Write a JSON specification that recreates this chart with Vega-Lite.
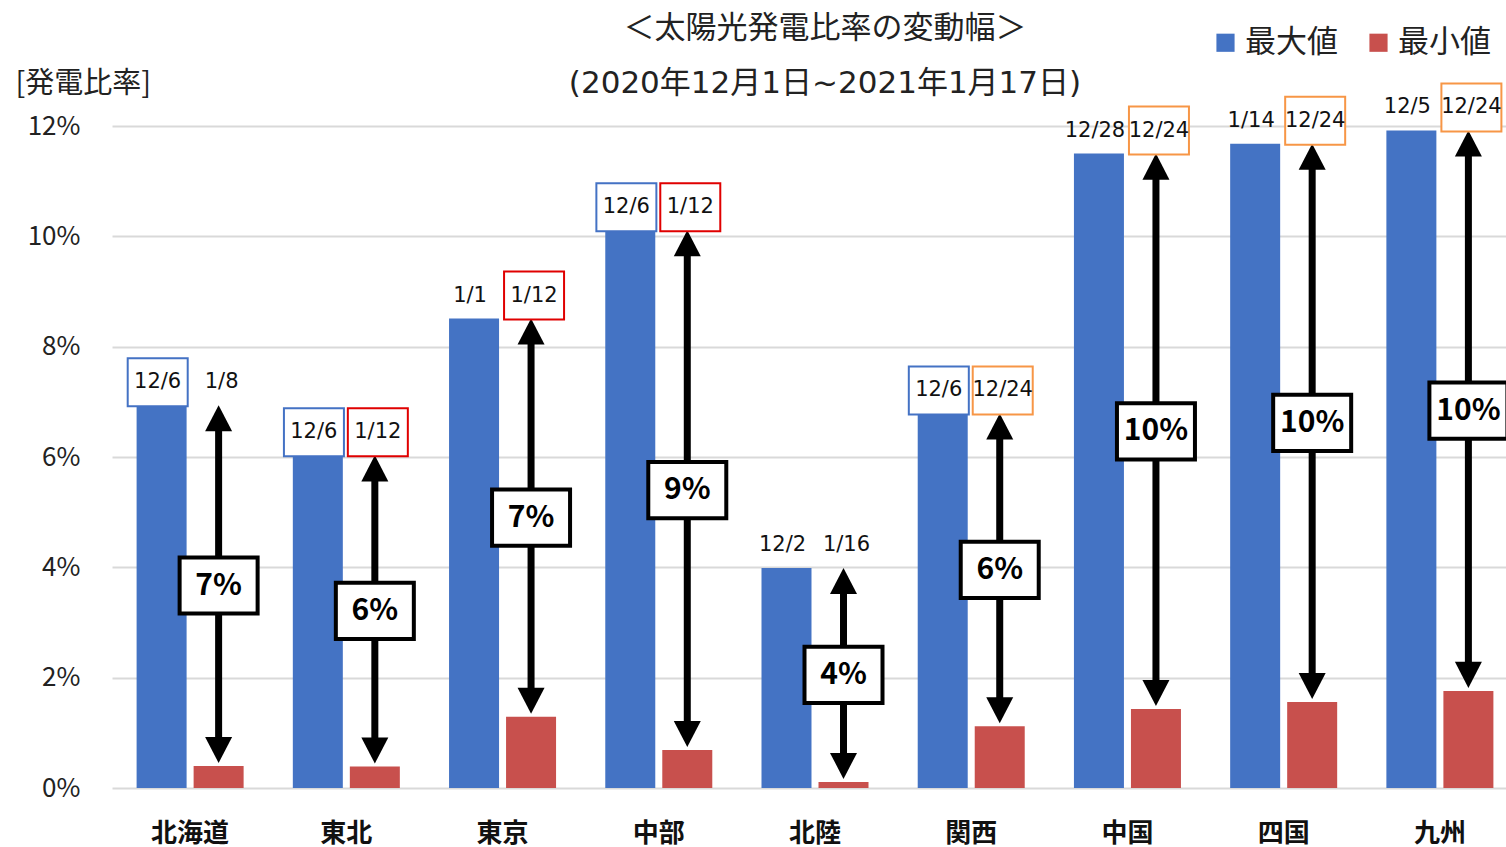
{
  "$schema": "https://vega.github.io/schema/vega-lite/v6.json",
  "width": 1394,
  "height": 662,
  "autosize": {"type": "none"},
  "padding": {"left": 112, "top": 126, "right": 0, "bottom": 59},
  "background": "white",
  "config": {
    "font": "Noto Sans CJK JP",
    "view": {"stroke": null}
  },
  "title": {
    "text": ["＜太陽光発電比率の変動幅＞", "(2020年12月1日~2021年1月17日)"],
    "font": "DejaVu Sans, Noto Sans CJK JP",
    "fontSize": 31,
    "fontWeight": "normal",
    "lineHeight": 55,
    "anchor": "middle",
    "frame": "group",
    "dx": 16,
    "dy": 103,
    "offset": 30,
    "color": "#222222"
  },
  "datasets": {
    "発電比率": [
      {"地域": "北海道", "系列": "最大値", "値": 0.0694, "日付": "12/6"},
      {"地域": "北海道", "系列": "最小値", "値": 0.0040, "日付": "1/8"},
      {"地域": "東北", "系列": "最大値", "値": 0.0603, "日付": "12/6"},
      {"地域": "東北", "系列": "最小値", "値": 0.0039, "日付": "1/12"},
      {"地域": "東京", "系列": "最大値", "値": 0.0851, "日付": "1/1"},
      {"地域": "東京", "系列": "最小値", "値": 0.0129, "日付": "1/12"},
      {"地域": "中部", "系列": "最大値", "値": 0.1011, "日付": "12/6"},
      {"地域": "中部", "系列": "最小値", "値": 0.0069, "日付": "1/12"},
      {"地域": "北陸", "系列": "最大値", "値": 0.0399, "日付": "12/2"},
      {"地域": "北陸", "系列": "最小値", "値": 0.0011, "日付": "1/16"},
      {"地域": "関西", "系列": "最大値", "値": 0.0679, "日付": "12/6"},
      {"地域": "関西", "系列": "最小値", "値": 0.0112, "日付": "12/24"},
      {"地域": "中国", "系列": "最大値", "値": 0.1150, "日付": "12/28"},
      {"地域": "中国", "系列": "最小値", "値": 0.0143, "日付": "12/24"},
      {"地域": "四国", "系列": "最大値", "値": 0.1168, "日付": "1/14"},
      {"地域": "四国", "系列": "最小値", "値": 0.0156, "日付": "12/24"},
      {"地域": "九州", "系列": "最大値", "値": 0.1192, "日付": "12/5"},
      {"地域": "九州", "系列": "最小値", "値": 0.0176, "日付": "12/24"}
    ],
    "変動幅": [
      {"地域": "北海道", "変動幅": 0.07},
      {"地域": "東北", "変動幅": 0.06},
      {"地域": "東京", "変動幅": 0.07},
      {"地域": "中部", "変動幅": 0.09},
      {"地域": "北陸", "変動幅": 0.04},
      {"地域": "関西", "変動幅": 0.06},
      {"地域": "中国", "変動幅": 0.10},
      {"地域": "四国", "変動幅": 0.10},
      {"地域": "九州", "変動幅": 0.10}
    ]
  },
  "data": {"name": "発電比率"},
  "encoding": {
    "x": {
      "field": "地域",
      "type": "nominal",
      "sort": null,
      "scale": {"range": [0, 1406], "paddingInner": 0.315, "paddingOuter": 0.1575},
      "axis": {
        "title": null,
        "labelAngle": 0,
        "labelFontSize": 26,
        "labelFontWeight": "bold",
        "labelColor": "#111111",
        "labelBaseline": "middle",
        "labelPadding": 45,
        "ticks": false,
        "domain": false
      }
    },
    "xOffset": {
      "field": "系列",
      "type": "nominal",
      "scale": {"domain": ["最大値", "最小値"], "paddingInner": 0.123, "paddingOuter": 0}
    }
  },
  "layer": [
    {
      "mark": {"type": "bar"},
      "encoding": {
        "y": {
          "field": "値",
          "type": "quantitative",
          "title": "[発電比率]",
          "scale": {"domain": [0, 0.12]},
          "axis": {
            "values": [0, 0.02, 0.04, 0.06, 0.08, 0.1, 0.12],
            "format": ".0%",
            "grid": true,
            "gridColor": "#D9D9D9",
            "gridWidth": 2,
            "domain": false,
            "ticks": false,
            "labelFontSize": 26,
            "labelPadding": 32,
            "labelColor": "#222222",
            "title": "[発電比率]",
            "titleAngle": 0,
            "titleX": -97,
            "titleY": -43,
            "titleAlign": "left",
            "titleBaseline": "middle",
            "titleFontSize": 29,
            "titleFontWeight": "normal",
            "titleColor": "#222222"
          }
        },
        "color": {
          "field": "系列",
          "type": "nominal",
          "scale": {"domain": ["最大値", "最小値"], "range": ["#4473C4", "#C8504D"]},
          "legend": {
            "orient": "none",
            "legendX": 1098,
            "legendY": -99,
            "direction": "horizontal",
            "title": null,
            "symbolType": "square",
            "symbolSize": 330,
            "symbolStrokeWidth": 0,
            "labelFontSize": 31,
            "labelColor": "#222222",
            "labelOffset": 4,
            "columnPadding": 25
          }
        }
      }
    },
    {
      "transform": [
        {"joinaggregate": [{"op": "max", "field": "値", "as": "最大"}], "groupby": ["地域"]},
        {"filter": "datum['系列'] === '最小値'"}
      ],
      "mark": {"type": "rule", "color": "black", "strokeWidth": 7, "yOffset": 14, "y2Offset": -14},
      "encoding": {
        "y": {"field": "最大", "type": "quantitative", "title": "[発電比率]"},
        "y2": {"field": "値"}
      }
    },
    {
      "transform": [
        {"joinaggregate": [{"op": "max", "field": "値", "as": "最大"}], "groupby": ["地域"]},
        {"filter": "datum['系列'] === '最小値'"}
      ],
      "mark": {"type": "point", "shape": "M0,0L1,1.93L-1,1.93Z", "size": 729, "filled": true, "color": "black", "opacity": 1, "strokeWidth": 0},
      "encoding": {
        "y": {"field": "最大", "type": "quantitative", "title": "[発電比率]"}
      }
    },
    {
      "transform": [
        {"filter": "datum['系列'] === '最小値'"}
      ],
      "mark": {"type": "point", "shape": "M0,0L1,-1.93L-1,-1.93Z", "size": 729, "filled": true, "color": "black", "opacity": 1, "strokeWidth": 0, "yOffset": -3},
      "encoding": {
        "y": {"field": "値", "type": "quantitative", "title": "[発電比率]"}
      }
    },
    {
      "transform": [
        {"joinaggregate": [{"op": "mean", "field": "値", "as": "中央"}], "groupby": ["地域"]},
        {"filter": "datum['系列'] === '最小値'"},
        {"lookup": "地域", "from": {"data": {"name": "変動幅"}, "key": "地域", "fields": ["変動幅"]}}
      ],
      "mark": {"type": "point", "shape": "M-1,-0.72H1V0.72H-1Z", "size": 6084, "fill": "white", "stroke": "black", "strokeWidth": 4, "opacity": 1},
      "encoding": {
        "y": {"field": "中央", "type": "quantitative", "title": "[発電比率]"}
      }
    },
    {
      "transform": [
        {"joinaggregate": [{"op": "mean", "field": "値", "as": "中央"}], "groupby": ["地域"]},
        {"filter": "datum['系列'] === '最小値'"},
        {"lookup": "地域", "from": {"data": {"name": "変動幅"}, "key": "地域", "fields": ["変動幅"]}}
      ],
      "mark": {"type": "text", "fontSize": 30, "fontWeight": "bold", "color": "black", "baseline": "middle", "align": "center"},
      "encoding": {
        "y": {"field": "中央", "type": "quantitative", "title": "[発電比率]"},
        "text": {"field": "変動幅", "type": "quantitative", "format": ".0%"}
      }
    },
    {
      "transform": [
        {"joinaggregate": [{"op": "max", "field": "値", "as": "最大"}], "groupby": ["地域"]},
        {"filter": "datum['系列'] === '最大値'"},
        {"filter": {"field": "日付", "oneOf": ["12/6", "1/12", "12/24"]}}
      ],
      "mark": {"type": "point", "shape": "M-1.13,-0.8H0.87V0.8H-1.13Z", "size": 3600, "fill": "white", "strokeWidth": 2, "opacity": 1, "yOffset": -23},
      "encoding": {
        "y": {"field": "最大", "type": "quantitative", "title": "[発電比率]"},
        "stroke": {
          "field": "日付",
          "type": "nominal",
          "scale": {"domain": ["12/6", "1/12", "12/24"], "range": ["#4472C4", "#E00000", "#F79646"]},
          "legend": null
        }
      }
    },
    {
      "transform": [
        {"joinaggregate": [{"op": "max", "field": "値", "as": "最大"}], "groupby": ["地域"]},
        {"filter": "datum['系列'] === '最小値'"},
        {"filter": {"field": "日付", "oneOf": ["12/6", "1/12", "12/24"]}}
      ],
      "mark": {"type": "point", "shape": "M-0.9,-0.8H1.1V0.8H-0.9Z", "size": 3600, "fill": "white", "strokeWidth": 2, "opacity": 1, "yOffset": -23},
      "encoding": {
        "y": {"field": "最大", "type": "quantitative", "title": "[発電比率]"},
        "stroke": {
          "field": "日付",
          "type": "nominal",
          "scale": {"domain": ["12/6", "1/12", "12/24"], "range": ["#4472C4", "#E00000", "#F79646"]},
          "legend": null
        }
      }
    },
    {
      "transform": [
        {"joinaggregate": [{"op": "max", "field": "値", "as": "最大"}], "groupby": ["地域"]},
        {"filter": "datum['系列'] === '最大値'"}
      ],
      "mark": {"type": "text", "font": "DejaVu Sans", "fontSize": 21, "color": "#111111", "baseline": "middle", "align": "center", "dx": -4, "yOffset": -23},
      "encoding": {
        "y": {"field": "最大", "type": "quantitative", "title": "[発電比率]"},
        "text": {"field": "日付", "type": "nominal"}
      }
    },
    {
      "transform": [
        {"joinaggregate": [{"op": "max", "field": "値", "as": "最大"}], "groupby": ["地域"]},
        {"filter": "datum['系列'] === '最小値'"}
      ],
      "mark": {"type": "text", "font": "DejaVu Sans", "fontSize": 21, "color": "#111111", "baseline": "middle", "align": "center", "dx": 3, "yOffset": -23},
      "encoding": {
        "y": {"field": "最大", "type": "quantitative", "title": "[発電比率]"},
        "text": {"field": "日付", "type": "nominal"}
      }
    }
  ]
}
